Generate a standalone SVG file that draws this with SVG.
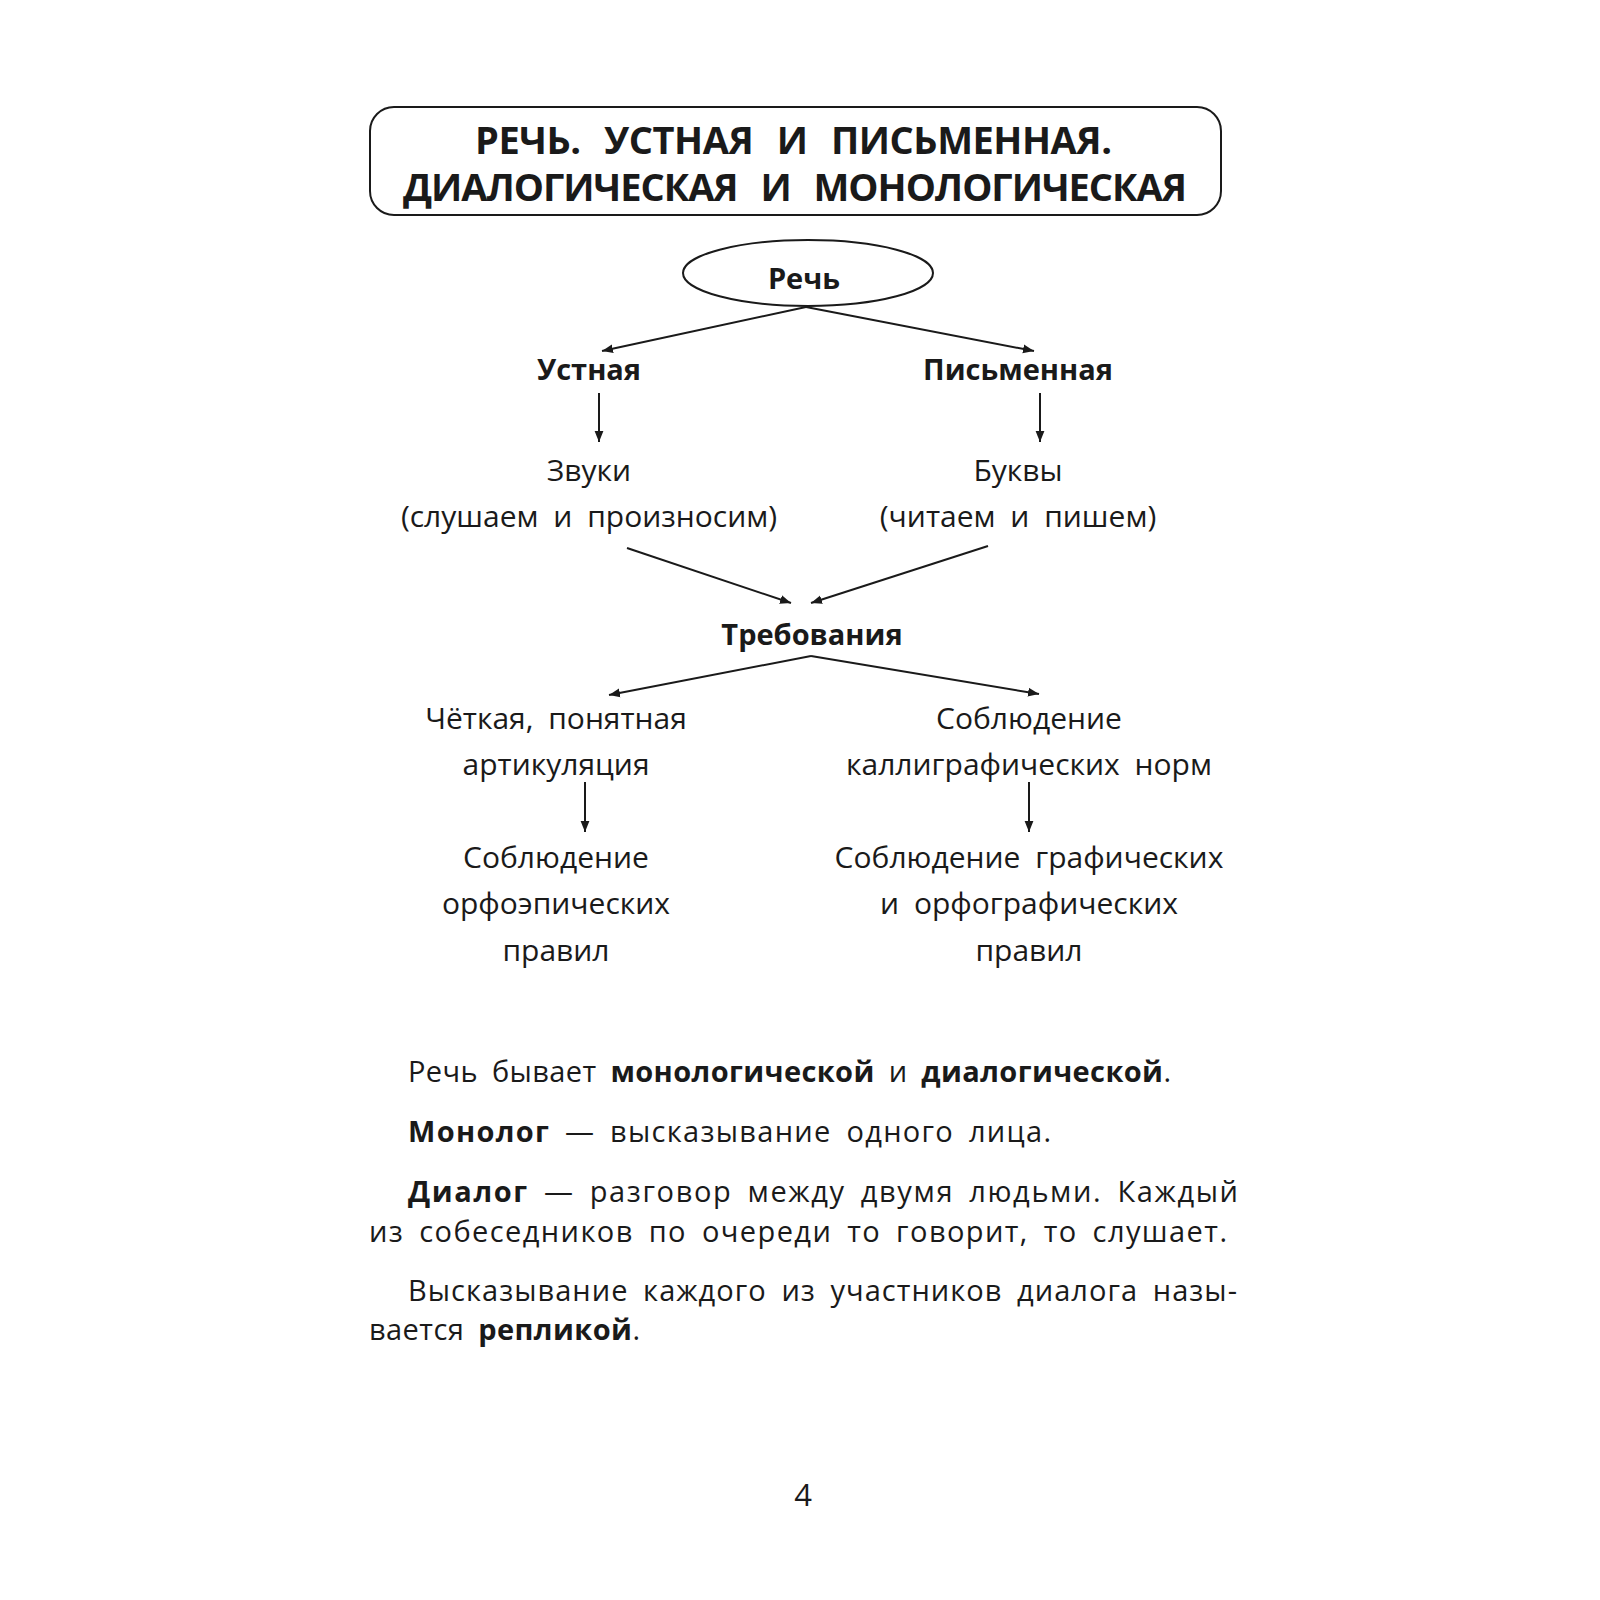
<svg xmlns="http://www.w3.org/2000/svg" width="1600" height="1600" viewBox="0 0 1600 1600">
<defs>
<style>
text{font-family:"Open Sans","DejaVu Sans",sans-serif;fill:#1a1a1a;}
.t{font-size:38px;font-weight:bold;word-spacing:14px;}
.b{font-size:29px;font-weight:bold;text-anchor:middle;}
.r{font-size:30px;text-anchor:middle;word-spacing:7px;}
.p{font-size:29px;word-spacing:6px;}
.pb{font-weight:bold;}
.c{stroke:#1a1a1a;stroke-width:2;fill:none;marker-end:url(#ah);}
</style>
<marker id="ah" viewBox="0 0 10 10" refX="10" refY="5" markerWidth="11" markerHeight="11" markerUnits="userSpaceOnUse" orient="auto">
<path d="M0,1 L10,5 L0,9 z" fill="#1a1a1a"/>
</marker>
</defs>
<rect width="1600" height="1600" fill="#ffffff"/>
<g id="title">
<rect x="370" y="107" width="851" height="108" rx="24" ry="24" fill="none" stroke="#1a1a1a" stroke-width="2"/>
<text class="t" x="475" y="154" textLength="637" lengthAdjust="spacing">РЕЧЬ. УСТНАЯ И ПИСЬМЕННАЯ.</text>
<text class="t" x="403" y="201" textLength="784" lengthAdjust="spacing">ДИАЛОГИЧЕСКАЯ И МОНОЛОГИЧЕСКАЯ</text>
</g>
<g id="node-rech">
<ellipse cx="808" cy="273" rx="125" ry="33" fill="none" stroke="#1a1a1a" stroke-width="2"/>
<text class="b" x="804" y="289">Речь</text>
</g>
<g id="node-ustnaya"><text class="b" x="589" y="380">Устная</text></g>
<g id="node-pismennaya"><text class="b" x="1018" y="380">Письменная</text></g>
<g id="node-zvuki">
<text class="r" x="589" y="481">Звуки</text>
<text class="r" x="589" y="527">(слушаем и произносим)</text>
</g>
<g id="node-bukvy">
<text class="r" x="1018" y="481">Буквы</text>
<text class="r" x="1018" y="527">(читаем и пишем)</text>
</g>
<g id="node-treb"><text class="b" x="812" y="645">Требования</text></g>
<g id="node-art">
<text class="r" x="556" y="729">Чёткая, понятная</text>
<text class="r" x="556" y="775">артикуляция</text>
</g>
<g id="node-kall">
<text class="r" x="1029" y="729">Соблюдение</text>
<text class="r" x="1029" y="775">каллиграфических норм</text>
</g>
<g id="node-orfoep">
<text class="r" x="556" y="868">Соблюдение</text>
<text class="r" x="556" y="914">орфоэпических</text>
<text class="r" x="556" y="961">правил</text>
</g>
<g id="node-graf">
<text class="r" x="1029" y="868">Соблюдение графических</text>
<text class="r" x="1029" y="914">и орфографических</text>
<text class="r" x="1029" y="961">правил</text>
</g>
<g id="connectors">
<line class="c" x1="806" y1="307" x2="602" y2="351"/>
<line class="c" x1="806" y1="307" x2="1034" y2="351"/>
<line class="c" x1="599" y1="393" x2="599" y2="442"/>
<line class="c" x1="1040" y1="393" x2="1040" y2="442"/>
<line class="c" x1="627" y1="548" x2="791" y2="603"/>
<line class="c" x1="988" y1="546" x2="811" y2="603"/>
<line class="c" x1="811" y1="656" x2="609" y2="695"/>
<line class="c" x1="811" y1="656" x2="1039" y2="694"/>
<line class="c" x1="585" y1="782" x2="585" y2="832"/>
<line class="c" x1="1029" y1="782" x2="1029" y2="832"/>
</g>
<g id="body">
<text class="p" x="408" y="1082" textLength="763" lengthAdjust="spacing">Речь бывает <tspan class="pb">монологической</tspan> и <tspan class="pb">диалогической</tspan>.</text>
<text class="p" x="408" y="1142" textLength="643" lengthAdjust="spacing"><tspan class="pb">Монолог</tspan>  —  высказывание одного лица.</text>
<text class="p" x="408" y="1202" textLength="830" lengthAdjust="spacing"><tspan class="pb">Диалог</tspan> — разговор между двумя людьми. Каждый</text>
<text class="p" x="369" y="1242" textLength="858" lengthAdjust="spacing">из собеседников по очереди то говорит, то слушает.</text>
<text class="p" x="408" y="1301" textLength="829" lengthAdjust="spacing">Высказывание каждого из участников диалога назы-</text>
<text class="p" x="369" y="1340" textLength="271" lengthAdjust="spacing">вается <tspan class="pb">репликой</tspan>.</text>
<text class="r" x="803" y="1506" style="font-size:31px">4</text>
</g>
</svg>
